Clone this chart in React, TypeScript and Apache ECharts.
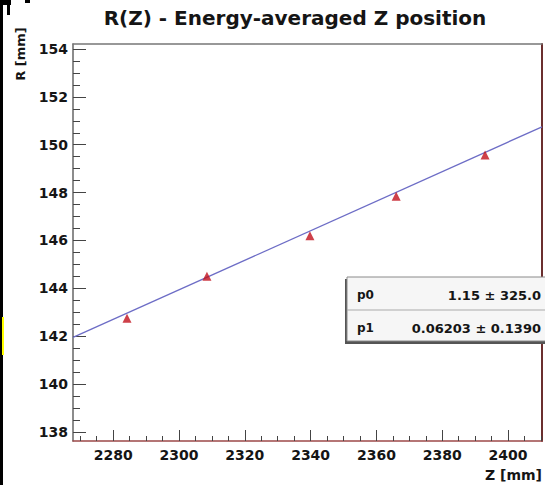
import React, { useEffect, useRef } from "react";
import * as echarts from "echarts";

// Data
const zValues = [2284.2, 2308.5, 2339.8, 2366.0, 2393.0];
const rValues = [142.75, 144.5, 146.2, 147.85, 149.57];
// Fit line end points (p0 + p1*Z across the axis range)
const fitZ = [2267.8, 2410.3];
const fitR = [141.95, 150.75];

const xMajorTicks = [2280, 2300, 2320, 2340, 2360, 2380, 2400];
const yMajorTicks = [138, 140, 142, 144, 146, 148, 150, 152, 154];
const xMinorTicks: number[] = [];
for (let v = 2270; v <= 2410; v += 5) xMinorTicks.push(v);
const yMinorTicks: number[] = [];
for (let v = 138; v <= 154.001; v += 0.5) yMinorTicks.push(Math.round(v * 10) / 10);

const paramNames = ["p0", "p1"];
const paramTexts = ["1.15 \u00b1 325.0", "0.06203 \u00b1 0.1390"];

const X_MIN = 2267.8;
const X_MAX = 2410.3;
const Y_MIN = 137.62;
const Y_MAX = 154.21;

const FONT = "DejaVu Sans";

export default function App() {
  const ref = useRef<HTMLDivElement>(null);
  useEffect(() => {
    if (!ref.current) return;
    const chart = echarts.init(ref.current, undefined, { renderer: "svg" });
    const labelStyle = {
      fontFamily: FONT,
      fontWeight: "bold" as const,
      fontSize: 14,
      color: "#151515",
      formatter: (v: number) => String(v),
    };
    const option: any = {
      animation: false,
      backgroundColor: "#ffffff",
      title: {
        text: "R(Z) - Energy-averaged Z position",
        left: 290,
        top: 3,
        textAlign: "center",
        textStyle: { fontFamily: FONT, fontWeight: "bold", fontSize: 20, color: "#151515" },
      },
      grid: { left: 73, right: 3, top: 44, bottom: 44, containLabel: false },
      xAxis: [
        {
          type: "value",
          position: "bottom",
          min: X_MIN,
          max: X_MAX,
          axisLine: { show: true, onZero: false, lineStyle: { color: "#9c4848", width: 1.5 } },
          axisTick: { show: true, inside: true, length: 11, customValues: xMajorTicks, lineStyle: { color: "#444" } },
          axisLabel: { ...labelStyle, customValues: xMajorTicks, margin: 7 },
          splitLine: { show: false },
        },
        {
          type: "value",
          position: "bottom",
          min: X_MIN,
          max: X_MAX,
          axisLine: { show: false, onZero: false },
          axisTick: { show: true, inside: true, length: 5, customValues: xMinorTicks, lineStyle: { color: "#444" } },
          axisLabel: { show: false },
          splitLine: { show: false },
        },
        {
          type: "value",
          position: "top",
          min: X_MIN,
          max: X_MAX,
          axisLine: { show: true, onZero: false, lineStyle: { color: "#777", width: 1.5 } },
          axisTick: { show: false },
          axisLabel: { show: false },
          splitLine: { show: false },
        },
      ],
      yAxis: [
        {
          type: "value",
          position: "left",
          min: Y_MIN,
          max: Y_MAX,
          axisLine: { show: true, onZero: false, lineStyle: { color: "#666", width: 1.5 } },
          axisTick: { show: true, inside: true, length: 13, customValues: yMajorTicks, lineStyle: { color: "#444" } },
          axisLabel: { ...labelStyle, customValues: yMajorTicks, margin: 5 },
          splitLine: { show: false },
        },
        {
          type: "value",
          position: "left",
          min: Y_MIN,
          max: Y_MAX,
          axisLine: { show: false, onZero: false },
          axisTick: { show: true, inside: true, length: 7, customValues: yMinorTicks, lineStyle: { color: "#444" } },
          axisLabel: { show: false },
          splitLine: { show: false },
        },
        {
          type: "value",
          position: "right",
          min: Y_MIN,
          max: Y_MAX,
          axisLine: { show: true, onZero: false, lineStyle: { color: "#6b2f2f", width: 2 } },
          axisTick: { show: false },
          axisLabel: { show: false },
          splitLine: { show: false },
        },
      ],
      series: [
        {
          type: "line",
          xAxisIndex: 0,
          yAxisIndex: 0,
          data: fitZ.map((z, i) => [z, fitR[i]]),
          showSymbol: false,
          symbol: "none",
          lineStyle: { color: "#6d6dc6", width: 1.3 },
          z: 2,
        },
        {
          type: "scatter",
          xAxisIndex: 0,
          yAxisIndex: 0,
          data: zValues.map((z, i) => [z, rValues[i]]),
          symbol: "triangle",
          symbolSize: 9,
          itemStyle: { color: "#c2101c" },
          z: 3,
        },
      ],
      graphic: [
        { type: "rect", shape: { x: 0, y: 0, width: 3, height: 485 }, style: { fill: "#000" }, z: 100 },
        { type: "rect", shape: { x: 0, y: 0, width: 11, height: 5 }, style: { fill: "#000" }, z: 100 },
        { type: "rect", shape: { x: 7, y: 5, width: 3, height: 10 }, style: { fill: "#000" }, z: 100 },
        { type: "rect", shape: { x: 25, y: 0, width: 5, height: 3 }, style: { fill: "#000" }, z: 100 },
        { type: "rect", shape: { x: 2, y: 317, width: 2, height: 38 }, style: { fill: "#ffff00" }, z: 101 },
        {
          type: "text",
          x: 20,
          y: 54,
          rotation: Math.PI / 2,
          style: {
            text: "R [mm]",
            fontFamily: FONT,
            fontWeight: "bold",
            fontSize: 13,
            fill: "#151515",
            align: "center",
            verticalAlign: "middle",
          },
          z: 100,
        },
        {
          type: "text",
          x: 542,
          y: 475,
          style: {
            text: "Z [mm]",
            fontFamily: FONT,
            fontWeight: "bold",
            fontSize: 14,
            fill: "#151515",
            align: "right",
            verticalAlign: "middle",
          },
          z: 100,
        },
        { type: "rect", shape: { x: 345, y: 279, width: 220, height: 65 }, style: { fill: "#555" }, z: 100 },
        { type: "rect", shape: { x: 347, y: 277, width: 220, height: 64 }, style: { fill: "#f6f6f6", stroke: "#8a8a8a", lineWidth: 1 }, z: 101 },
        { type: "line", shape: { x1: 347, y1: 310, x2: 567, y2: 310 }, style: { stroke: "#aaa", lineWidth: 1 }, z: 102 },
        ...paramNames.map((p, i) => ({
          type: "text",
          x: 357,
          y: 295 + i * 33,
          style: {
            text: p,
            fontFamily: FONT,
            fontWeight: "bold",
            fontSize: 12,
            fill: "#151515",
            align: "left",
            verticalAlign: "middle",
          },
          z: 103,
        })),
        ...paramTexts.map((t, i) => ({
          type: "text",
          x: 541,
          y: 295 + i * 33,
          style: {
            text: t,
            fontFamily: FONT,
            fontWeight: "bold",
            fontSize: 13,
            fill: "#151515",
            align: "right",
            verticalAlign: "middle",
          },
          z: 103,
        })),
      ],
    };
    chart.setOption(option);
    return () => chart.dispose();
  }, []);
  return (
    <div
      ref={ref}
      style={{ position: "fixed", left: 0, top: 0, width: 545, height: 485, background: "#fff" }}
    />
  );
}
